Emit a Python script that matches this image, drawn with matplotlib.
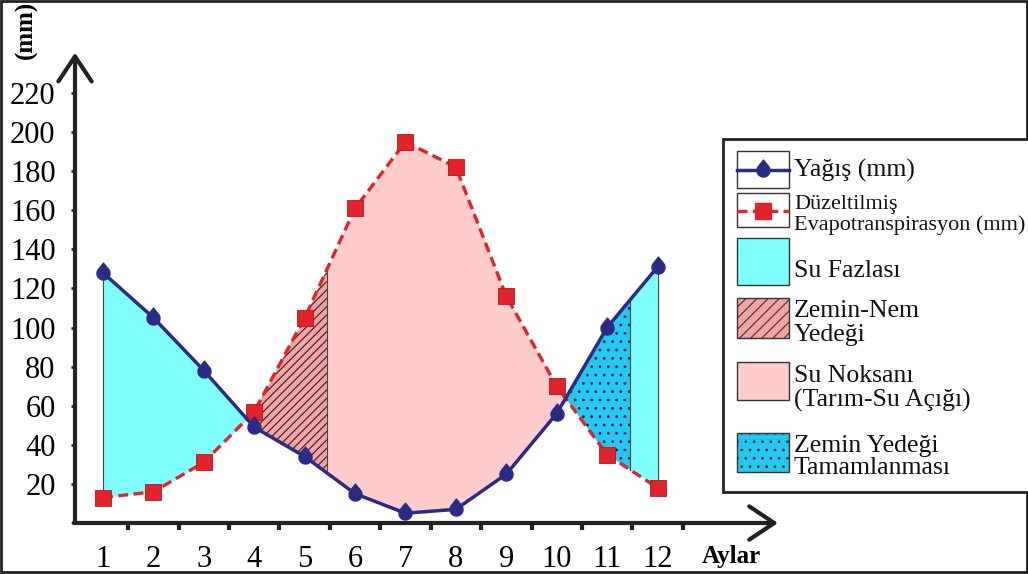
import numpy as np
import matplotlib
matplotlib.use("Agg")
import matplotlib.pyplot as plt
from matplotlib.path import Path
from matplotlib.patches import Rectangle
from matplotlib.lines import Line2D

# Data
months = [1, 2, 3, 4, 5, 6, 7, 8, 9, 10, 11, 12]
precip = [128, 105, 78, 49, 34, 15, 5, 7, 25, 56, 100, 131]
evapo = [13, 16, 31, 57, 105, 161, 195, 182, 116, 70, 35, 18]
y_ticks = [20, 40, 60, 80, 100, 120, 140, 160, 180, 200, 220]
# where the soil-moisture parts stop (between months)
recharge_end = 5.44
refill_end = 11.46

legend_labels = ["Yağış (mm)", ["Düzeltilmiş", "Evapotranspirasyon (mm)"], "Su Fazlası",
                 ["Zemin-Nem", "Yedeği"], ["Su Noksanı", "(Tarım-Su Açığı)"],
                 ["Zemin Yedeği", "Tamamlanması"]]

NAVY = "#2b2b85"
RED = "#e3232b"
CYAN = "#80ffff"
SALMON = "#f4a2a2"
PINK = "#ffcccc"
DEEPCYAN = "#22c8f0"

plt.rcParams['font.family'] = ['Liberation Serif', 'DejaVu Serif']
plt.rcParams['hatch.linewidth'] = 0.8


# drop shaped marker: circle with a point on top
def drop_marker():
    tip = 1.6
    a = np.degrees(np.arccos(1 / tip))
    t = np.radians(np.linspace(90 - a, -270 + a, 40))
    verts = [(0, tip)] + list(zip(np.cos(t), np.sin(t))) + [(0, tip)]
    codes = [Path.MOVETO] + [Path.LINETO] * (len(verts) - 2) + [Path.CLOSEPOLY]
    return Path(verts, codes)


DROP = drop_marker()


def fill_part(ax, a, b, p_over, **kw):
    xs = np.linspace(a, b, 400)
    p = np.interp(xs, months, precip)
    e = np.interp(xs, months, evapo)
    where = p >= e if p_over else e >= p
    ax.fill_between(xs, p, e, where=where, interpolate=True, linewidth=0, **kw)


fig = plt.figure(figsize=(10.28, 5.74), dpi=100)
W, H = 1028, 574
ax = fig.add_axes([75 / W, 1 - 523 / H, 703 / W, 468 / H])
ax.set_xlim(0.444, 14.39)
ax.set_ylim(0, 239.4)

# areas between the two curves
fill_part(ax, 1, recharge_end, True, color=CYAN, zorder=1)
fill_part(ax, refill_end, 12, True, color=CYAN, zorder=1)
fill_part(ax, 8, refill_end, True, facecolor=DEEPCYAN, hatch="..", edgecolor="#1a1a50", zorder=1)
fill_part(ax, 1, recharge_end, False, facecolor=SALMON, hatch="////", edgecolor="#222222", zorder=1)
fill_part(ax, recharge_end, 12, False, color=PINK, zorder=1)

# thin edges of the areas
for xv in [1, recharge_end, refill_end, 12]:
    p = np.interp(xv, months, precip)
    e = np.interp(xv, months, evapo)
    ax.plot([xv, xv], [p, e], color="#444444", lw=0.8, zorder=2)

ax.plot(months, evapo, color=RED, lw=2.4, dashes=(3, 1.6), marker="s", ms=11,
        mfc=RED, mec="#b01818", mew=0.6, zorder=4)
ax.plot(months, precip, color=NAVY, lw=2.5, marker=DROP, ms=15,
        mfc=NAVY, mec=NAVY, zorder=5)

# axes
for s in ax.spines.values():
    s.set_visible(False)
ax.annotate("", xy=(0, 1.005), xytext=(0, 0), xycoords="axes fraction",
            arrowprops=dict(arrowstyle="->,head_length=0.6,head_width=0.4", lw=3,
                            color="#222222", mutation_scale=30, shrinkA=0, shrinkB=0))
ax.annotate("", xy=(1, 0), xytext=(-0.002, 0), xycoords="axes fraction",
            arrowprops=dict(arrowstyle="->,head_length=0.6,head_width=0.4", lw=3,
                            color="#222222", mutation_scale=30, shrinkA=0, shrinkB=0))

ax.set_yticks(y_ticks)
ax.set_yticklabels([str(v) for v in y_ticks], fontsize=22)
ax.tick_params(axis="y", length=3, width=2, direction="out", pad=11, color="#222222")
ax.set_xticks(months)
ax.set_xticklabels([str(m) for m in months], fontsize=22)
ax.set_xticks([m + 0.5 for m in months], minor=True)
ax.tick_params(axis="x", which="major", length=0, pad=16)
ax.tick_params(axis="x", which="minor", length=5, width=3, direction="out", color="#222222")

# overlay in pixel coordinates for frame, legend and axis names
ov = fig.add_axes([0, 0, 1, 1], facecolor="none")
ov.set_xlim(0, W)
ov.set_ylim(H, 0)
ov.axis("off")

ov.add_patch(Rectangle((1, 1), W - 2, H - 3, fill=False, lw=2, edgecolor="#222222"))
ov.text(26, 30, "(mm)", rotation=90, ha="center", va="center", fontsize=18, fontweight="bold")
ov.text(731, 556, "Aylar", ha="center", va="center", fontsize=18, fontweight="bold")

# legend
ov.add_patch(Rectangle((723, 139), 320, 353, facecolor="white", edgecolor="#222222", lw=2))
boxes = [(151, 188), (193, 227), (238, 285), (298, 338), (362, 400), (433, 472)]
styles = [dict(facecolor="white"), dict(facecolor="white"), dict(facecolor=CYAN),
          dict(facecolor=SALMON, hatch="///"), dict(facecolor=PINK),
          dict(facecolor=DEEPCYAN, hatch="..")]
for (y0, y1), st in zip(boxes, styles):
    ov.add_patch(Rectangle((737, y0), 52, y1 - y0, edgecolor="#333333", lw=1, **st))
ov.add_line(Line2D([737, 789], [170, 170], color=NAVY, lw=2.5))
ov.add_line(Line2D([763], [170], marker=DROP, ms=15, color=NAVY, lw=0))
ov.add_line(Line2D([737, 789], [211, 211], color=RED, lw=2.4, dashes=(3, 1.6)))
ov.add_line(Line2D([763], [211], marker="s", ms=11, color=RED, lw=0))

baselines = [[177], [209, 230], [277], [317, 341], [382, 407], [452, 474]]
for lab, bl in zip(legend_labels, baselines):
    lines = [lab] if isinstance(lab, str) else lab
    fs = 16 if lines[0] == "Düzeltilmiş" else 18.5
    for txt, yb in zip(lines, bl):
        ov.text(794, yb, txt, ha="left", va="baseline", fontsize=fs, color="#111111")

fig.savefig("out.png", dpi=100)
